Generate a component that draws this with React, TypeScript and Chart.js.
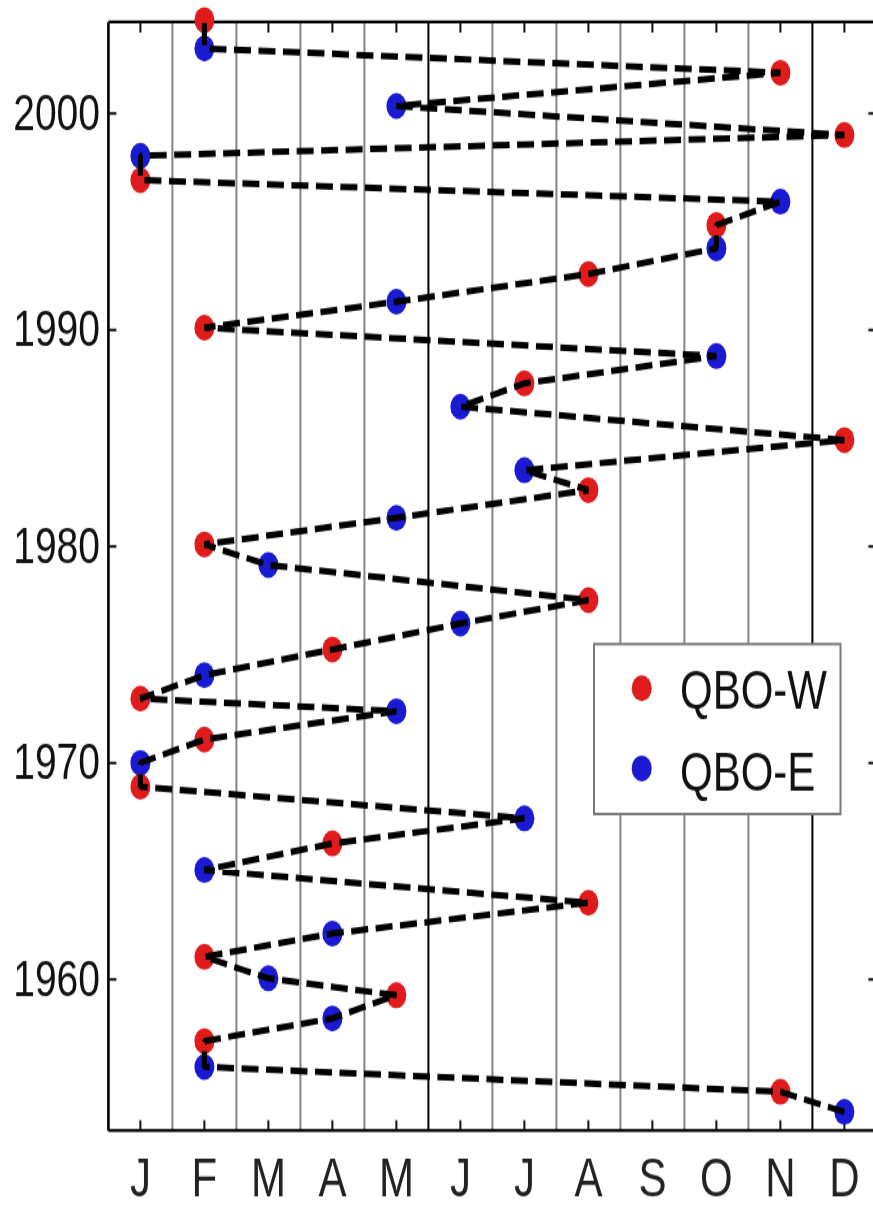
import React, { useEffect, useRef } from 'react';
import { Chart, registerables } from 'chart.js';

Chart.register(...registerables);

// ---------- data ----------
const MONTH_LABELS = ['J', 'F', 'M', 'A', 'M', 'J', 'J', 'A', 'S', 'O', 'N', 'D'];
const YEAR_TICKS = [1960, 1970, 1980, 1990, 2000];

// QBO-W onsets: month (1-12) and fractional year
const W_MONTHS = [11, 2, 5, 2, 8, 4, 1, 2, 1, 4, 8, 2, 8, 12, 7, 2, 8, 10, 1, 12, 11, 2];
const W_YEARS = [
  1954.81, 1957.15, 1959.27, 1961.04, 1963.54, 1966.28, 1968.9, 1971.08, 1972.97, 1975.24, 1977.52,
  1980.09, 1982.6, 1984.91, 1987.53, 1990.1, 1992.58, 1994.84, 1996.92, 1999.0, 2001.88, 2004.31,
];

// QBO-E onsets: month (1-12) and fractional year
const E_MONTHS = [12, 2, 4, 3, 4, 2, 7, 1, 5, 2, 6, 3, 5, 7, 6, 10, 5, 10, 11, 1, 5, 2];
const E_YEARS = [
  1953.88, 1955.96, 1958.2, 1960.05, 1962.12, 1965.05, 1967.44, 1970.0, 1972.39, 1974.05, 1976.44,
  1979.14, 1981.32, 1983.52, 1986.45, 1988.79, 1991.3, 1993.77, 1995.92, 1998.04, 2000.34, 2003.0,
];

const Y_MIN = 1953.02;
const Y_MAX = 2004.22;

// ---------- layout / style ----------
const FONT = '"Liberation Sans", Arial, Helvetica, sans-serif';
const CANVAS_W = 880;
const CANVAS_H = 929;
const VIEW_W = 873;
const VIEW_H = 1208;
const STRETCH = VIEW_H / CANVAS_H;
const PLOT_LEFT = 108.4;
const PLOT_RIGHT = 876.4;
const PLOT_TOP = 16.92;
const PLOT_BOTTOM = 869.4;
const RED = '#e01b1b';
const BLUE = '#1a1ad2';
const BLACK_BOUNDARIES = [5, 11];
const TICK_LEN = 8;

const LEGEND_BOX = { left: 594, top: 495.3, right: 840.5, bottom: 626 };
const LEGEND_DOT_X = 641.7;
const LEGEND_TEXT_X = 680;
const LEGEND_ROWS = [
  { dotY: 529.3, textY: 533.7 },
  { dotY: 590.9, textY: 596 },
];

const zeroPadding = (s: any) => {
  s.paddingTop = 0;
  s.paddingBottom = 0;
  s.paddingLeft = 0;
  s.paddingRight = 0;
};

const framePlugin = {
  id: 'qboFrame',
  beforeDatasetsDraw(chart: any) {
    const { ctx, chartArea: a, scales } = chart;
    const xs = scales.x;
    const ys = scales.y;
    ctx.save();
    // month boundary lines
    for (let i = 1; i < 12; i++) {
      const px = xs.getPixelForValue(i + 0.5);
      ctx.strokeStyle = BLACK_BOUNDARIES.includes(i) ? '#000000' : '#858585';
      ctx.lineWidth = 2;
      ctx.beginPath();
      ctx.moveTo(px, a.top);
      ctx.lineTo(px, a.bottom);
      ctx.stroke();
    }
    // frame
    ctx.strokeStyle = '#000000';
    ctx.lineWidth = 2.6;
    ctx.beginPath();
    ctx.moveTo(a.left, a.top);
    ctx.lineTo(a.left, a.bottom);
    ctx.moveTo(a.right, a.top);
    ctx.lineTo(a.right, a.bottom);
    ctx.stroke();
    ctx.lineWidth = 2.2;
    ctx.beginPath();
    ctx.moveTo(a.left, a.top);
    ctx.lineTo(a.right, a.top);
    ctx.moveTo(a.left, a.bottom);
    ctx.lineTo(a.right, a.bottom);
    ctx.stroke();
    // inward ticks
    ctx.lineWidth = 2;
    ctx.strokeStyle = '#111111';
    ctx.beginPath();
    for (let m = 1; m <= 12; m++) {
      const px = xs.getPixelForValue(m);
      ctx.moveTo(px, a.top);
      ctx.lineTo(px, a.top + TICK_LEN);
      ctx.moveTo(px, a.bottom);
      ctx.lineTo(px, a.bottom - TICK_LEN);
    }
    for (const yv of YEAR_TICKS) {
      const py = ys.getPixelForValue(yv);
      ctx.moveTo(a.left, py);
      ctx.lineTo(a.left + TICK_LEN, py);
      ctx.moveTo(a.right, py);
      ctx.lineTo(a.right - TICK_LEN, py);
    }
    ctx.stroke();
    ctx.restore();
  },
  afterDatasetsDraw(chart: any) {
    const { ctx } = chart;
    const items = chart.data.datasets.filter((d: any) => d.inLegend);
    ctx.save();
    const b = LEGEND_BOX;
    ctx.fillStyle = '#ffffff';
    ctx.fillRect(b.left, b.top, b.right - b.left, b.bottom - b.top);
    ctx.strokeStyle = '#7a7a7a';
    ctx.lineWidth = 2;
    ctx.strokeRect(b.left, b.top, b.right - b.left, b.bottom - b.top);
    items.forEach((d: any, i: number) => {
      const row = LEGEND_ROWS[i];
      ctx.fillStyle = d.backgroundColor;
      ctx.beginPath();
      ctx.arc(LEGEND_DOT_X, row.dotY, 10, 0, Math.PI * 2);
      ctx.fill();
      ctx.fillStyle = '#111111';
      ctx.font = `42px ${FONT}`;
      ctx.textAlign = 'left';
      ctx.textBaseline = 'middle';
      ctx.fillText(d.label, LEGEND_TEXT_X, row.textY);
    });
    ctx.restore();
  },
};

export default function App() {
  const ref = useRef<HTMLCanvasElement | null>(null);

  useEffect(() => {
    if (!ref.current) return;
    const wPoints = W_MONTHS.map((m, i) => ({ x: m, y: W_YEARS[i] }));
    const ePoints = E_MONTHS.map((m, i) => ({ x: m, y: E_YEARS[i] }));
    const sequence = [...wPoints, ...ePoints].sort((p, q) => p.y - q.y);

    const chart = new Chart(ref.current, {
      type: 'scatter',
      data: {
        datasets: [
          {
            label: 'sequence',
            data: sequence,
            showLine: true,
            borderColor: '#000000',
            borderWidth: 5,
            borderDash: [17, 7.5],
            borderJoinStyle: 'bevel',
            borderCapStyle: 'butt',
            pointRadius: 0,
            pointHoverRadius: 0,
            tension: 0,
            fill: false,
            clip: false,
          } as any,
          {
            label: 'QBO-W',
            data: wPoints,
            backgroundColor: RED,
            borderWidth: 0,
            pointRadius: 10,
            pointHoverRadius: 10,
            pointStyle: 'circle',
            showLine: false,
            clip: false,
            inLegend: true,
          } as any,
          {
            label: 'QBO-E',
            data: ePoints,
            backgroundColor: BLUE,
            borderWidth: 0,
            pointRadius: 10,
            pointHoverRadius: 10,
            pointStyle: 'circle',
            showLine: false,
            clip: false,
            inLegend: true,
          } as any,
        ],
      },
      options: {
        animation: false,
        responsive: false,
        maintainAspectRatio: false,
        devicePixelRatio: 1,
        events: [],
        layout: {
          autoPadding: false,
          padding: { left: 0, top: PLOT_TOP, right: CANVAS_W - PLOT_RIGHT, bottom: 0 },
        },
        plugins: {
          legend: { display: false },
          tooltip: { enabled: false },
        },
        scales: {
          x: {
            type: 'linear',
            min: 0.5,
            max: 12.5,
            afterBuildTicks: (s: any) => {
              s.ticks = MONTH_LABELS.map((_, i) => ({ value: i + 1 }));
            },
            afterFit: (s: any) => {
              s.height = CANVAS_H - PLOT_BOTTOM;
              zeroPadding(s);
            },
            grid: { display: false, drawTicks: false },
            border: { display: false },
            ticks: {
              autoSkip: false,
              maxRotation: 0,
              minRotation: 0,
              padding: 18,
              color: '#222222',
              font: { family: FONT, size: 42, lineHeight: 1 },
              callback: (v: any) => MONTH_LABELS[Math.round(Number(v)) - 1] ?? '',
            },
          },
          y: {
            type: 'linear',
            min: Y_MIN,
            max: Y_MAX,
            afterBuildTicks: (s: any) => {
              s.ticks = YEAR_TICKS.map((v) => ({ value: v }));
            },
            afterFit: (s: any) => {
              s.width = PLOT_LEFT;
              zeroPadding(s);
            },
            grid: { display: false, drawTicks: false },
            border: { display: false },
            ticks: {
              padding: 8.4,
              labelOffset: 2,
              color: '#111111',
              font: { family: FONT, size: 39, lineHeight: 1 },
              callback: (v: any) => String(v),
            },
          },
        },
      } as any,
      plugins: [framePlugin],
    });

    return () => chart.destroy();
  }, []);

  return (
    <div
      style={{
        position: 'absolute',
        left: 0,
        top: 0,
        width: VIEW_W,
        height: VIEW_H,
        overflow: 'hidden',
        background: '#ffffff',
      }}
    >
      <div
        style={{
          width: CANVAS_W,
          height: CANVAS_H,
          transform: `scale(1, ${STRETCH})`,
          transformOrigin: '0 0',
        }}
      >
        <canvas
          ref={ref}
          width={CANVAS_W}
          height={CANVAS_H}
          style={{ display: 'block', width: CANVAS_W, height: CANVAS_H }}
        />
      </div>
    </div>
  );
}
